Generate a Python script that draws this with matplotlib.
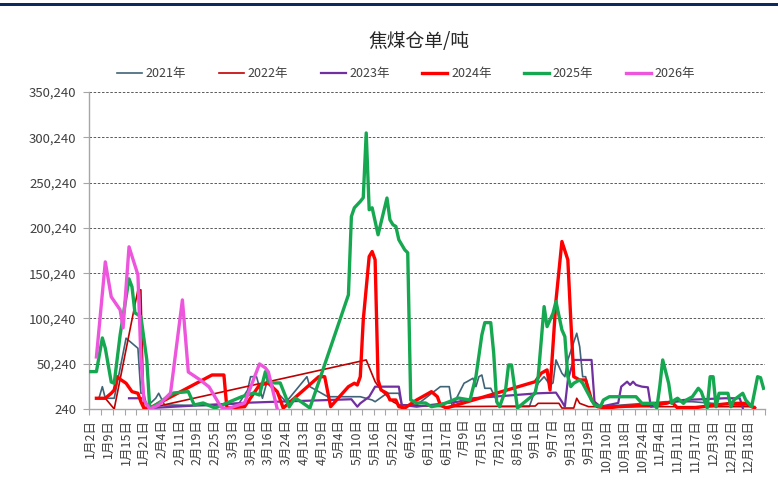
import numpy as np
import matplotlib
matplotlib.use('Agg')
import matplotlib.pyplot as plt
from matplotlib.patches import Rectangle
from matplotlib.ticker import FuncFormatter

plt.rcParams['font.family'] = ['Noto Sans CJK SC', 'DejaVu Sans']

N_CATS = 228
x_labels = ['1月2日', '1月9日', '1月15日', '1月21日', '2月4日', '2月11日', '2月19日', '2月25日',
            '3月3日', '3月10日', '3月16日', '3月24日', '4月13日', '4月19日', '5月4日', '5月10日',
            '5月16日', '5月22日', '6月4日', '6月11日', '6月17日', '7月9日', '7月15日', '7月21日',
            '8月16日', '9月1日', '9月7日', '9月13日', '9月19日', '10月10日', '10月18日', '10月24日',
            '11月4日', '11月11日', '11月17日', '12月3日', '12月12日', '12月18日']
label_step = 6
tick_step = 4

nan = np.nan
x21 = [3,4,5,8,12,16,17,18,19,22,23,25,40,50,53,54,56,58,60,62,66,73,74,80,91,95,96,100,104,105,110,118,121,122,126,127,129,130,131,132,133,135,138,148,150,151,153,155,156,157,159,160,161,164,165,166,167,169,172,194,203,224]
y21 = [13800,24900,12100,12100,78400,67300,17600,17600,2800,12100,17600,4700,4000,6000,21200,35900,35900,12100,35900,22000,8000,35900,24900,13800,13800,10200,8300,17600,17600,4700,4700,24900,24900,2800,28700,30400,34200,24900,35900,37800,23100,23100,2800,2800,21200,28700,35900,26800,29000,54400,39700,35900,54400,83900,69100,35900,35900,10200,2800,8300,8300,2800]

x22 = [2,5,8,16,17,18,20,93,96,98,102,104,120,150,151,158,159,163,164,165,168,224]
y22 = [12100,12100,240,131800,131800,240,1300,54400,30400,21200,8300,4700,2800,3500,6500,6500,1300,1300,12100,6500,2800,2800]

x23 = [13,17,18,20,53,88,90,91,94,96,104,105,110,124,129,151,157,159,160,161,163,169,170,172,178,179,181,182,183,184,186,188,189,200,214,219,220]
y23 = [12100,12100,nan,1300,7200,11000,2800,6500,13800,24900,24900,4700,2800,8300,12100,17600,18300,8300,2800,32300,54400,54400,8300,2800,6900,24900,30400,26800,30400,26800,24900,24200,2800,10200,12100,12100,1300]

x24 = [2,5,7,8,9,10,12,14,16,17,18,20,41,45,46,52,57,60,63,65,77,79,81,85,87,89,90,91,92,94,95,96,97,98,100,101,103,104,106,110,113,115,117,118,120,150,152,154,155,157,159,161,162,163,165,167,169,171,174,178,183,194,196,198,203,211,216,221,224]
y24 = [12100,12100,17600,21200,35900,33100,28700,19400,17600,8300,1300,1300,37800,37800,1300,2800,26800,28700,19400,1300,35900,35900,2800,17600,24900,28700,26800,35900,98600,168600,174100,165000,32300,21200,17600,10200,10200,2800,1300,10200,15700,19400,13800,4700,1300,30400,39700,43400,21200,120000,185200,165000,98600,35900,32300,32300,10200,2800,1300,2800,3600,6500,8300,1300,1300,4700,6500,6500,1300]

x25 = [0,2,4,5,7,8,10,13,14,15,17,19,20,22,28,33,35,38,42,51,55,57,59,60,62,64,66,67,69,71,74,87,88,89,91,92,93,94,95,97,100,101,102,103,104,106,107,108,110,113,115,118,121,124,128,130,132,133,135,136,137,138,140,141,142,144,148,150,151,153,154,156,157,159,160,161,162,163,165,166,169,170,172,173,175,178,184,186,190,191,192,193,195,196,197,198,200,201,203,205,206,207,208,209,210,211,212,215,216,217,220,221,223,225,226,227]
y25 = [41500,41500,78700,67300,30000,28700,82000,144000,135100,106400,102300,54400,240,4700,17900,19400,4700,6900,1300,13800,17900,15700,41500,30400,29000,29000,12400,2500,12400,8300,1300,126300,212800,222400,229400,233500,305000,220200,222400,192600,233200,209200,203700,201800,187100,176000,172700,10200,6900,6900,2800,4700,8300,12400,10200,35900,82000,95600,95600,61800,8300,2800,21200,48900,48900,1300,12100,17600,35900,113300,91200,106000,118900,87600,80200,35900,24900,28700,32300,28700,10200,4700,2800,10200,13800,13800,13800,6500,6500,1300,24900,54400,28700,6500,10200,12100,6500,10200,13800,23100,19400,10200,1300,35900,35900,2800,17600,17600,2800,10200,17600,10200,2800,35900,34800,23100]

x26 = [2,5,7,10,11,13,16,17,18,20,23,27,28,31,33,37,40,44,46,50,52,57,59,60,63]
y26 = [57700,162700,124100,109700,89800,179300,148400,57700,10200,240,4700,17900,43400,120700,41100,32300,24600,2500,240,4700,7000,50000,45600,41100,240]

series_names = ['2021年', '2022年', '2023年', '2024年', '2025年', '2026年']
series_x = [x21, x22, x23, x24, x25, x26]
series_y = [y21, y22, y23, y24, y25, y26]
colors = ['#3F6377', '#C00000', '#7030A0', '#FF0000', '#16A850', '#EE55DD']
widths = [1.2, 1.2, 1.6, 2.4, 2.4, 2.4]

fig = plt.figure(figsize=(7.78, 4.91), dpi=100)
fig.add_artist(Rectangle((0, 1 - 6 / 491), 1, 3.5 / 491, transform=fig.transFigure,
                         color='#0D2A5C', lw=0))

ax = fig.add_axes([89 / 778, (491 - 409) / 491, (765 - 89) / 778, (409 - 92) / 491])

handles = []
for xs, ys, c, w, name in zip(series_x, series_y, colors, widths, series_names):
    h, = ax.plot(xs, ys, color=c, lw=w, label=name, solid_joinstyle='round', zorder=3)
    handles.append(h)

ax.set_xlim(-0.5, N_CATS - 0.5)
ax.set_ylim(240, 350240)
ax.set_yticks(np.arange(240, 350241, 50000))
ax.yaxis.set_major_formatter(FuncFormatter(lambda v, p: f'{int(round(v)):,}'))
ax.grid(axis='y', linestyle=(0, (3, 2)), color='#404040', linewidth=0.6)
ax.set_axisbelow(True)

ax.set_xticks(np.arange(0, len(x_labels) * label_step, label_step))
ax.set_xticklabels(x_labels, rotation=90, fontsize=9, color='#404040')
ax.set_xticks(np.arange(-0.5, N_CATS, tick_step), minor=True)
ax.tick_params(axis='x', which='major', length=0, pad=7)
ax.tick_params(axis='x', which='minor', length=4, color='#A6A6A6', width=0.8)
ax.tick_params(axis='y', length=4, color='#A6A6A6', width=0.8, labelsize=9.5,
               labelcolor='#404040', pad=5)

for s in ['top', 'right']:
    ax.spines[s].set_visible(False)
for s in ['left', 'bottom']:
    ax.spines[s].set_color('#A6A6A6')
    ax.spines[s].set_linewidth(1.0)

fig.text(419 / 778, 1 - 42 / 491, '焦煤仓单/吨', ha='center', va='center',
         fontsize=13.5, color='#262626')

fig.legend(handles, series_names, loc='center', bbox_to_anchor=(406 / 778, 1 - 74 / 491),
           ncol=6, frameon=False, fontsize=9, handlelength=2.0, handletextpad=0.3,
           columnspacing=2.6, labelcolor='#404040')

fig.savefig('out.png', dpi=100)
